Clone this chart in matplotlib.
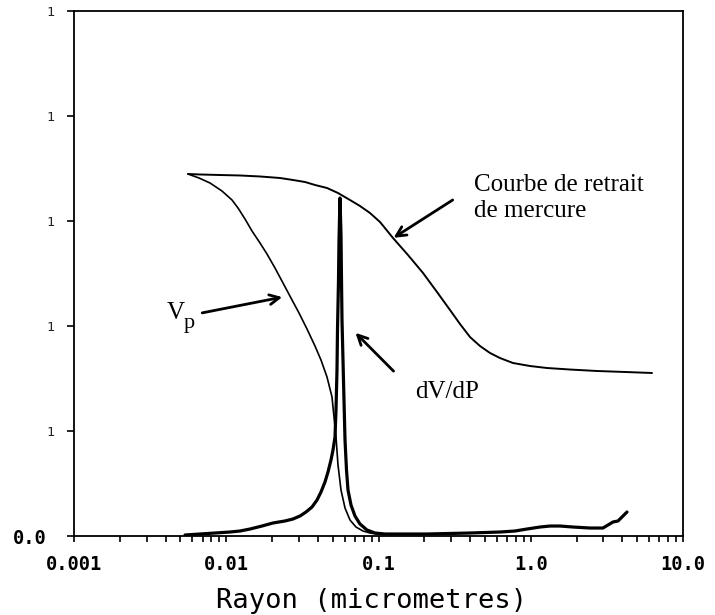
import matplotlib
matplotlib.use('Agg')
import matplotlib.pyplot as plt
import matplotlib.transforms as mtransforms
from matplotlib.ticker import LogLocator, NullFormatter

# ---- data (radius in micrometres, volume in relative units) ----
radius_retrait = [0.005607, 0.006725, 0.009097, 0.01231, 0.01666, 0.02254, 0.02744,
                  0.03291, 0.03827, 0.04589, 0.0542, 0.06497, 0.07557, 0.08793,
                  0.10231, 0.12458, 0.15623, 0.19605, 0.24222, 0.29485, 0.343,
                  0.399, 0.4641, 0.5399, 0.6281, 0.7646, 0.9888, 1.2785, 1.81,
                  2.723, 4.159, 6.257]
vol_retrait = [0.6895, 0.6886, 0.6876, 0.6867, 0.6848, 0.6819, 0.6781,
               0.6743, 0.6686, 0.6629, 0.6533, 0.6400, 0.6286, 0.6152,
               0.5981, 0.5676, 0.5352, 0.5010, 0.4648, 0.4305, 0.4038,
               0.3790, 0.3619, 0.3486, 0.3390, 0.3295, 0.3238, 0.3200, 0.3171,
               0.3143, 0.3124, 0.3105]

radius_vp = [0.005607, 0.006622, 0.00782, 0.009378, 0.01091, 0.011944, 0.01328,
             0.01476, 0.01666, 0.01852, 0.0209, 0.02359, 0.02662, 0.03005,
             0.03391, 0.03827, 0.04191, 0.04589, 0.0495, 0.05101, 0.05258,
             0.0542, 0.05672, 0.06026, 0.06497, 0.07115, 0.0791, 0.08793, 0.09775]
vol_vp = [0.6895, 0.6819, 0.6724, 0.6571, 0.6400, 0.6248, 0.6038,
          0.5810, 0.5581, 0.5371, 0.5105, 0.4819, 0.4533, 0.4248,
          0.3943, 0.3619, 0.3352, 0.3029, 0.2648, 0.2267, 0.1886,
          0.1352, 0.0876, 0.0533, 0.0305, 0.0171, 0.0095, 0.0057, 0.0038]

radius_dvdp = [0.005359, 0.006725, 0.008435, 0.010583, 0.01231, 0.014322, 0.01717,
               0.02028, 0.02431, 0.02744, 0.03051, 0.03341, 0.03658, 0.03947,
               0.04191, 0.04452, 0.04659, 0.04875, 0.05025, 0.0518, 0.05258,
               0.05338, 0.05378, 0.05461, 0.05502, 0.05586, 0.05672, 0.05715,
               0.05758, 0.05845, 0.05934, 0.06026, 0.06163, 0.06305, 0.06598,
               0.07007, 0.07557, 0.08403, 0.09484, 0.11035, 0.20831, 0.399,
               0.6281, 0.7881, 0.9449, 1.1502, 1.3378, 1.5563, 1.8945, 2.4505,
               2.9818, 3.217, 3.4696, 3.7425, 3.9745, 4.287]
val_dvdp = [0.0019, 0.0038, 0.0057, 0.0076, 0.0095, 0.0133, 0.0190,
            0.0248, 0.0286, 0.0324, 0.0381, 0.0457, 0.0552, 0.0686,
            0.0838, 0.1029, 0.1219, 0.1448, 0.1638, 0.1886, 0.2400,
            0.3162, 0.3924, 0.4876, 0.5638, 0.6438, 0.5733, 0.4876,
            0.4114, 0.3352, 0.2590, 0.1829, 0.1257, 0.0876, 0.0590,
            0.0381, 0.0229, 0.0114, 0.0057, 0.0038, 0.0038, 0.0057,
            0.0076, 0.0095, 0.0133, 0.0171, 0.0190, 0.0190, 0.0171, 0.0152,
            0.0152, 0.0210, 0.0267, 0.0286, 0.0362, 0.0457]

x_tick_values = [0.001, 0.01, 0.1, 1.0, 10.0]
x_tick_labels = ['0.001', '0.01', '0.1', '1.0', '10.0']
y_tick_values = [0.0, 0.2, 0.4, 0.6, 0.8, 1.0]
y_tick_labels = ['0.0', '1', '1', '1', '1', '1']

# ---- figure ----
fig = plt.figure(figsize=(7.15, 6.15), dpi=100)
ax = fig.add_axes([74 / 715, 1 - 536 / 615, 609 / 715, 525 / 615])
ax.set_xscale('log')
ax.set_xlim(0.001, 10)
ax.set_ylim(0, 1)

ax.plot(radius_retrait, vol_retrait, color='black', lw=1.4,
        solid_capstyle='round', solid_joinstyle='round')
ax.plot(radius_vp, vol_vp, color='black', lw=1.2,
        solid_capstyle='round', solid_joinstyle='round')
ax.plot(radius_dvdp, val_dvdp, color='black', lw=2.3,
        solid_joinstyle='round', solid_capstyle='round')

for s in ax.spines.values():
    s.set_linewidth(1.3)
    s.set_color('black')

mono = 'DejaVu Sans Mono'
ax.set_xticks(x_tick_values)
ax.set_xticklabels(x_tick_labels, fontfamily=mono, fontweight='bold', fontsize=13.5)
ax.xaxis.set_minor_locator(LogLocator(base=10, subs=range(2, 10)))
ax.xaxis.set_minor_formatter(NullFormatter())
ax.tick_params(axis='x', which='both', direction='out', length=4, width=1.2,
               top=False, pad=10)

ax.set_yticks(y_tick_values)
ax.set_yticklabels(y_tick_labels, fontfamily=mono, fontsize=9.5, color='#222222')
ax.tick_params(axis='y', which='both', direction='out', length=5, width=1.2,
               right=False, pad=9)
for lbl in ax.get_yticklabels():
    if lbl.get_text() == '0.0':
        lbl.set_fontweight('bold')
        lbl.set_fontsize(13.5)
        lbl.set_color('black')
        lbl.set_transform(lbl.get_transform() +
                          mtransforms.ScaledTranslation(-6 / 72, 0, fig.dpi_scale_trans))

fig.text(372 / 715, 1 - 601 / 615, 'Rayon (micrometres)', fontfamily=mono,
         fontsize=19.5, ha='center', va='center')

# ---- annotations ----
serif = 'Liberation Serif'
arrow_kw = dict(arrowstyle='->,head_length=0.7,head_width=0.35', lw=2.0, color='black',
                shrinkA=0, shrinkB=0)

ax.text(0.422, 0.644, 'Courbe de retrait\nde mercure', fontfamily=serif, fontsize=18,
        ha='left', va='center', linespacing=1.2)
ax.annotate('', xy=(0.1256, 0.568), xytext=(0.307, 0.640), arrowprops=arrow_kw)

ax.text(0.00469, 0.425, 'V', fontfamily=serif, fontsize=18, ha='center', va='center')
ax.text(0.00572, 0.404, 'p', fontfamily=serif, fontsize=16, ha='center', va='center')
ax.annotate('', xy=(0.02333, 0.455), xytext=(0.00695, 0.425), arrowprops=arrow_kw)

ax.text(0.284, 0.274, 'dV/dP', fontfamily=serif, fontsize=18, ha='center', va='center')
ax.annotate('', xy=(0.0706, 0.387), xytext=(0.1256, 0.314), arrowprops=arrow_kw)

fig.savefig('out.png', dpi=100)
